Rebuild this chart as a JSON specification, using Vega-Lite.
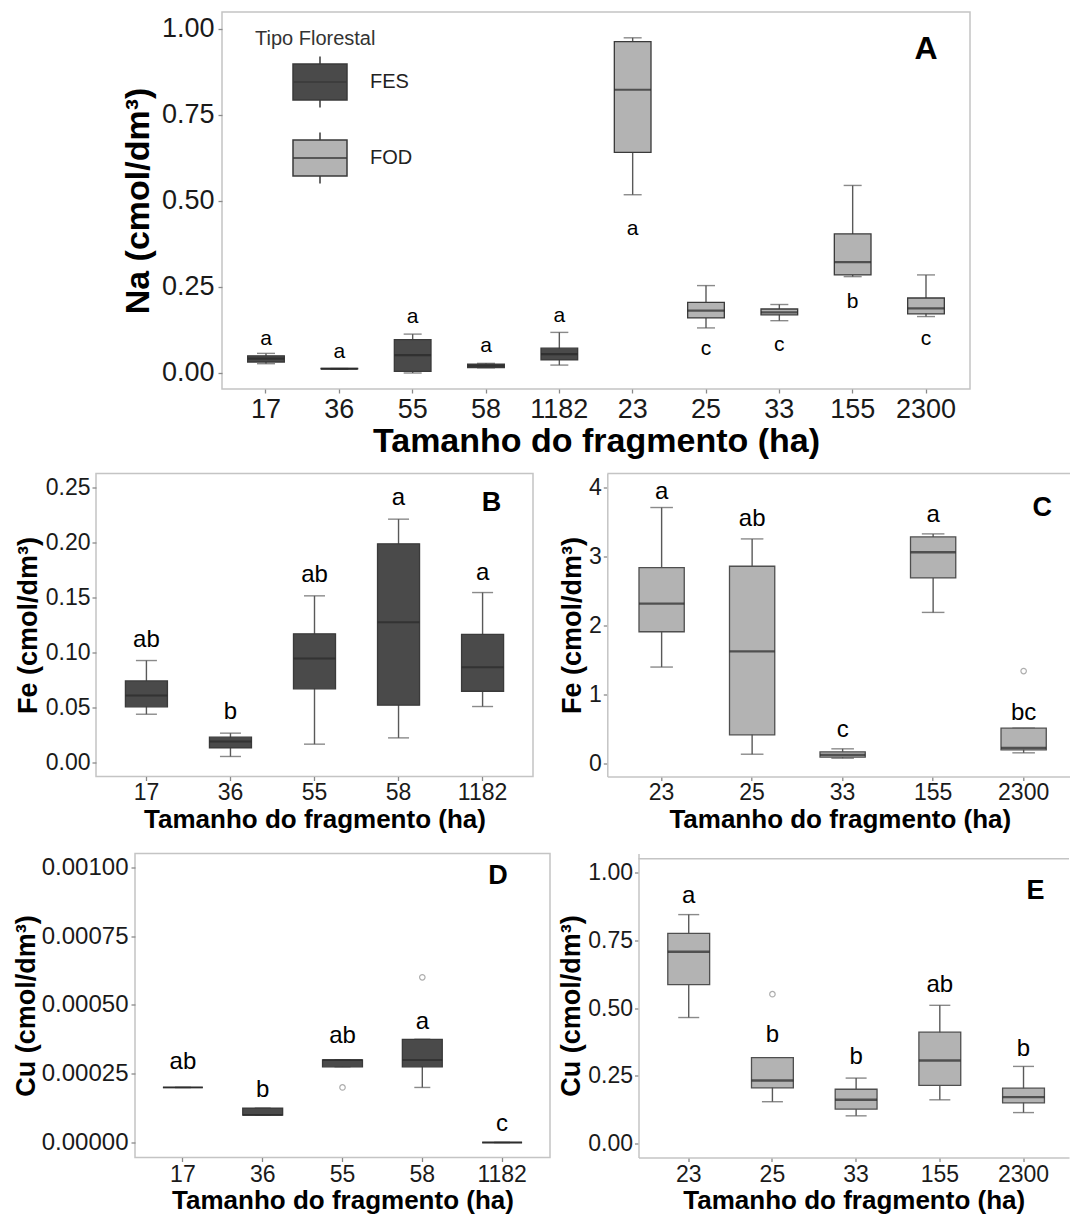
{
"$schema": "https://vega.github.io/schema/vega-lite/v6.json",
"padding": {"left": 10, "top": 11, "right": 0, "bottom": 0},
"background": "#ffffff",
"config": {
  "font": "Liberation Sans",
  "view": {"stroke": "#c4c4c4", "strokeWidth": 1.5},
  "axis": {"grid": false, "domain": false, "tickColor": "#8a8a8a", "tickWidth": 1.3, "tickSize": 4, "labelColor": "#1a1a1a", "titleColor": "#000000", "titleFontWeight": "bold", "labelFont": "Liberation Sans", "titleFont": "Liberation Sans"},
  "axisX": {"labelAngle": 0, "bandPosition": 0.5}
},
"datasets": {
  "na": [
    {"frag": "17", "tipo": "FES", "lo": 0.027, "q1": 0.032, "med": 0.042, "q3": 0.050, "hi": 0.057, "letra": "a", "ly": 0.099},
    {"frag": "36", "tipo": "FES", "lo": 0.011, "q1": 0.012, "med": 0.012, "q3": 0.013, "hi": 0.013, "letra": "a", "ly": 0.062},
    {"frag": "55", "tipo": "FES", "lo": 0.0, "q1": 0.005, "med": 0.052, "q3": 0.097, "hi": 0.113, "letra": "a", "ly": 0.162},
    {"frag": "58", "tipo": "FES", "lo": 0.015, "q1": 0.016, "med": 0.021, "q3": 0.026, "hi": 0.028, "letra": "a", "ly": 0.079},
    {"frag": "1182", "tipo": "FES", "lo": 0.023, "q1": 0.038, "med": 0.055, "q3": 0.072, "hi": 0.118, "letra": "a", "ly": 0.165},
    {"frag": "23", "tipo": "FOD", "lo": 0.518, "q1": 0.641, "med": 0.823, "q3": 0.963, "hi": 0.974, "letra": "a", "ly": 0.419},
    {"frag": "25", "tipo": "FOD", "lo": 0.131, "q1": 0.160, "med": 0.181, "q3": 0.205, "hi": 0.254, "letra": "c", "ly": 0.07},
    {"frag": "33", "tipo": "FOD", "lo": 0.152, "q1": 0.169, "med": 0.176, "q3": 0.186, "hi": 0.199, "letra": "c", "ly": 0.081},
    {"frag": "155", "tipo": "FOD", "lo": 0.280, "q1": 0.285, "med": 0.322, "q3": 0.404, "hi": 0.545, "letra": "b", "ly": 0.207},
    {"frag": "2300", "tipo": "FOD", "lo": 0.164, "q1": 0.172, "med": 0.188, "q3": 0.218, "hi": 0.285, "letra": "c", "ly": 0.099}
  ],
  "feFES": [
    {"frag": "17", "lo": 0.0439, "q1": 0.0506, "med": 0.0609, "q3": 0.0742, "hi": 0.0927, "letra": "ab", "ly": 0.1115},
    {"frag": "36", "lo": 0.0055, "q1": 0.0133, "med": 0.019, "q3": 0.023, "hi": 0.0267, "letra": "b", "ly": 0.0458},
    {"frag": "55", "lo": 0.0167, "q1": 0.067, "med": 0.0945, "q3": 0.117, "hi": 0.1515, "letra": "ab", "ly": 0.1706},
    {"frag": "58", "lo": 0.0224, "q1": 0.0521, "med": 0.1276, "q3": 0.1988, "hi": 0.2212, "letra": "a", "ly": 0.2403},
    {"frag": "1182", "lo": 0.0509, "q1": 0.0648, "med": 0.0867, "q3": 0.1164, "hi": 0.1545, "letra": "a", "ly": 0.1727}
  ],
  "feFOD": [
    {"frag": "23", "lo": 1.398, "q1": 1.91, "med": 2.317, "q3": 2.84, "hi": 3.71, "letra": "a", "ly": 3.94},
    {"frag": "25", "lo": 0.135, "q1": 0.416, "med": 1.625, "q3": 2.859, "hi": 3.255, "letra": "ab", "ly": 3.55},
    {"frag": "33", "lo": 0.077, "q1": 0.092, "med": 0.126, "q3": 0.169, "hi": 0.213, "letra": "c", "ly": 0.489},
    {"frag": "155", "lo": 2.19, "q1": 2.689, "med": 3.062, "q3": 3.284, "hi": 3.328, "letra": "a", "ly": 3.6},
    {"frag": "2300", "lo": 0.155, "q1": 0.198, "med": 0.227, "q3": 0.513, "hi": 0.513, "letra": "bc", "ly": 0.73}
  ],
  "cuFES": [
    {"frag": "17", "lo": 0.0002, "q1": 0.0002, "med": 0.0002, "q3": 0.0002, "hi": 0.0002, "letra": "ab", "ly": 0.000293},
    {"frag": "36", "lo": 0.0001, "q1": 0.0001, "med": 0.0001, "q3": 0.000125, "hi": 0.000125, "letra": "b", "ly": 0.000189},
    {"frag": "55", "lo": 0.000275, "q1": 0.000275, "med": 0.0003, "q3": 0.0003, "hi": 0.0003, "letra": "ab", "ly": 0.000387},
    {"frag": "58", "lo": 0.0002, "q1": 0.000275, "med": 0.0003, "q3": 0.000375, "hi": 0.000375, "letra": "a", "ly": 0.000438},
    {"frag": "1182", "lo": 0, "q1": 0, "med": 0, "q3": 0, "hi": 0, "letra": "c", "ly": 0.0000673}
  ],
  "cuFOD": [
    {"frag": "23", "lo": 0.465, "q1": 0.586, "med": 0.707, "q3": 0.775, "hi": 0.844, "letra": "a", "ly": 0.914},
    {"frag": "25", "lo": 0.155, "q1": 0.206, "med": 0.233, "q3": 0.317, "hi": 0.317, "letra": "b", "ly": 0.402},
    {"frag": "33", "lo": 0.103, "q1": 0.128, "med": 0.162, "q3": 0.201, "hi": 0.242, "letra": "b", "ly": 0.319},
    {"frag": "155", "lo": 0.162, "q1": 0.215, "med": 0.307, "q3": 0.411, "hi": 0.51, "letra": "ab", "ly": 0.586},
    {"frag": "2300", "lo": 0.115, "q1": 0.151, "med": 0.172, "q3": 0.205, "hi": 0.285, "letra": "b", "ly": 0.35}
  ],
  "out": [
    {"p": "C", "frag": "2300", "v": 1.34},
    {"p": "D", "frag": "55", "v": 0.0002},
    {"p": "D", "frag": "58", "v": 0.0006},
    {"p": "E", "frag": "25", "v": 0.551}
  ],
  "rot": [
    {"p": "A", "frag": "2300", "v": 0.942},
    {"p": "B", "frag": "1182", "v": 0.2355},
    {"p": "C", "frag": "2300", "v": 3.696},
    {"p": "D", "frag": "1182", "v": 0.000967},
    {"p": "E", "frag": "2300", "v": 0.9326}
  ],
  "topo": [
    {"p": "C", "v": 4.203},
    {"p": "E", "v": 1.0493}
  ]
},
"spacing": 12.5,
"resolve": {"scale": {"fill": "independent"}, "legend": {"fill": "independent"}},
"vconcat": [
  {
    "spacing": 0,
    "resolve": {"scale": {"fill": "independent"}, "legend": {"fill": "independent"}},
    "hconcat": [
      {"width": 111, "height": 1, "view": {"stroke": null}, "data": {"values": []}, "mark": "point", "encoding": {}},
      {
        "width": 748, "height": 377,
        "layer": [
          {
            "data": {"name": "na"},
            "encoding": {"x": {"field": "frag", "type": "nominal", "title": "Tamanho do fragmento (ha)", "scale": {"domain": ["17","36","55","58","1182","23","25","33","155","2300"], "paddingInner": 0.5, "paddingOuter": 0.35}, "axis": {"labelFontSize": 27, "titleFontSize": 34, "labelPadding": 3, "titlePadding": 2.5}}},
            "layer": [
              {"mark": {"type": "rule", "color": "#595959", "strokeWidth": 1.4},
               "encoding": {"y": {"field": "lo", "type": "quantitative", "title": "Na (cmol/dm³)", "scale": {"domain": [-0.0465, 1.049], "nice": false, "zero": false}, "axis": {"values": [0, 0.25, 0.5, 0.75, 1], "format": ".2f", "labelFontSize": 27, "titleFontSize": 34, "labelPadding": 4, "titlePadding": 5.5}}, "y2": {"field": "hi"}}},
              {"mark": {"type": "tick", "color": "#595959", "thickness": 1.4, "size": 18},
               "encoding": {"y": {"field": "lo", "type": "quantitative", "title": "Na (cmol/dm³)", "scale": {"domain": [-0.0465, 1.049], "nice": false, "zero": false}, "axis": {"values": [0, 0.25, 0.5, 0.75, 1], "format": ".2f", "labelFontSize": 27, "titleFontSize": 34, "labelPadding": 4, "titlePadding": 5.5}}}},
              {"mark": {"type": "tick", "color": "#595959", "thickness": 1.4, "size": 18},
               "encoding": {"y": {"field": "hi", "type": "quantitative", "title": "Na (cmol/dm³)", "scale": {"domain": [-0.0465, 1.049], "nice": false, "zero": false}, "axis": {"values": [0, 0.25, 0.5, 0.75, 1], "format": ".2f", "labelFontSize": 27, "titleFontSize": 34, "labelPadding": 4, "titlePadding": 5.5}}}},
              {"mark": {"type": "bar", "stroke": "#3a3a3a", "strokeWidth": 1.3},
               "encoding": {"y": {"field": "q1", "type": "quantitative", "title": "Na (cmol/dm³)", "scale": {"domain": [-0.0465, 1.049], "nice": false, "zero": false}, "axis": {"values": [0, 0.25, 0.5, 0.75, 1], "format": ".2f", "labelFontSize": 27, "titleFontSize": 34, "labelPadding": 4, "titlePadding": 5.5}}, "y2": {"field": "q3"},
                 "fill": {"field": "tipo", "type": "nominal", "scale": {"domain": ["FES", "FOD"], "range": ["#4a4a4a", "#b3b3b3"]},
                   "legend": {"title": "Tipo Florestal", "orient": "none", "legendX": 33, "legendY": 17, "padding": 0, "titleFontSize": 20, "titleFontWeight": "normal", "titleColor": "#333333", "titlePadding": 5, "labelFontSize": 20, "labelColor": "#222222", "symbolType": "M-1,-0.667H1V0.667H-1Z M0,-0.667V-0.944 M0,0.667V0.944 M-1,0H1", "symbolSize": 2916, "symbolStrokeColor": "#3a3a3a", "symbolStrokeWidth": 1.5, "symbolOffset": 37, "labelOffset": 22, "rowPadding": 18}}}},
              {"mark": {"type": "tick", "color": "#262626", "thickness": 2.2, "size": 36.7},
               "encoding": {"y": {"field": "med", "type": "quantitative", "title": "Na (cmol/dm³)", "scale": {"domain": [-0.0465, 1.049], "nice": false, "zero": false}, "axis": {"values": [0, 0.25, 0.5, 0.75, 1], "format": ".2f", "labelFontSize": 27, "titleFontSize": 34, "labelPadding": 4, "titlePadding": 5.5}}}},
              {"mark": {"type": "text", "fontSize": 21, "baseline": "middle", "color": "#000000"},
               "encoding": {"y": {"field": "ly", "type": "quantitative", "title": "Na (cmol/dm³)", "scale": {"domain": [-0.0465, 1.049], "nice": false, "zero": false}, "axis": {"values": [0, 0.25, 0.5, 0.75, 1], "format": ".2f", "labelFontSize": 27, "titleFontSize": 34, "labelPadding": 4, "titlePadding": 5.5}}, "text": {"field": "letra"}}}
            ]
          },
          {
            "data": {"name": "rot"},
            "transform": [{"filter": "datum.p == 'A'"}],
            "mark": {"type": "text", "fontSize": 32, "fontWeight": "bold", "baseline": "middle", "color": "#000000"},
            "encoding": {
              "x": {"field": "frag", "type": "nominal", "title": "Tamanho do fragmento (ha)", "scale": {"domain": ["17","36","55","58","1182","23","25","33","155","2300"], "paddingInner": 0.5, "paddingOuter": 0.35}, "axis": {"labelFontSize": 27, "titleFontSize": 34, "labelPadding": 3, "titlePadding": 2.5}},
              "y": {"field": "v", "type": "quantitative", "title": "Na (cmol/dm³)", "scale": {"domain": [-0.0465, 1.049], "nice": false, "zero": false}, "axis": {"values": [0, 0.25, 0.5, 0.75, 1], "format": ".2f", "labelFontSize": 27, "titleFontSize": 34, "labelPadding": 4, "titlePadding": 5.5}},
              "text": {"field": "p"}
            }
          }
        ]
      }
    ]
  },
  {
    "spacing": 19,
    "vconcat": [
      {
        "spacing": 0,
        "hconcat": [
          {"width": 3, "height": 1, "view": {"stroke": null}, "data": {"values": []}, "mark": "point", "encoding": {}},
          {
            "spacing": 24.3,
            "hconcat": [
              {
                "width": 437, "height": 303,
                "layer": [
                  {
                    "data": {"name": "feFES"},
                    "encoding": {"x": {"field": "frag", "type": "nominal", "title": "Tamanho do fragmento (ha)", "scale": {"domain": ["17","36","55","58","1182"], "paddingInner": 0.5, "paddingOuter": 0.35}, "axis": {"labelFontSize": 23, "titleFontSize": 26, "labelPadding": 1, "titlePadding": 2}}},
                    "layer": [
                      {"mark": {"type": "rule", "color": "#595959", "strokeWidth": 1.4},
                       "encoding": {"y": {"field": "lo", "type": "quantitative", "title": "Fe (cmol/dm³)", "scale": {"domain": [-0.0127, 0.2627], "nice": false, "zero": false}, "axis": {"values": [0, 0.05, 0.1, 0.15, 0.2, 0.25], "format": ".2f", "labelFontSize": 23, "titleFontSize": 27, "labelPadding": 2, "titlePadding": 3}}, "y2": {"field": "hi"}}},
                      {"mark": {"type": "tick", "color": "#595959", "thickness": 1.4, "size": 21},
                       "encoding": {"y": {"field": "lo", "type": "quantitative", "title": "Fe (cmol/dm³)", "scale": {"domain": [-0.0127, 0.2627], "nice": false, "zero": false}, "axis": {"values": [0, 0.05, 0.1, 0.15, 0.2, 0.25], "format": ".2f", "labelFontSize": 23, "titleFontSize": 27, "labelPadding": 2, "titlePadding": 3}}}},
                      {"mark": {"type": "tick", "color": "#595959", "thickness": 1.4, "size": 21},
                       "encoding": {"y": {"field": "hi", "type": "quantitative", "title": "Fe (cmol/dm³)", "scale": {"domain": [-0.0127, 0.2627], "nice": false, "zero": false}, "axis": {"values": [0, 0.05, 0.1, 0.15, 0.2, 0.25], "format": ".2f", "labelFontSize": 23, "titleFontSize": 27, "labelPadding": 2, "titlePadding": 3}}}},
                      {"mark": {"type": "bar", "fill": "#4a4a4a", "stroke": "#3a3a3a", "strokeWidth": 1.3},
                       "encoding": {"y": {"field": "q1", "type": "quantitative", "title": "Fe (cmol/dm³)", "scale": {"domain": [-0.0127, 0.2627], "nice": false, "zero": false}, "axis": {"values": [0, 0.05, 0.1, 0.15, 0.2, 0.25], "format": ".2f", "labelFontSize": 23, "titleFontSize": 27, "labelPadding": 2, "titlePadding": 3}}, "y2": {"field": "q3"}}},
                      {"mark": {"type": "tick", "color": "#2a2a2a", "thickness": 2, "size": 42},
                       "encoding": {"y": {"field": "med", "type": "quantitative", "title": "Fe (cmol/dm³)", "scale": {"domain": [-0.0127, 0.2627], "nice": false, "zero": false}, "axis": {"values": [0, 0.05, 0.1, 0.15, 0.2, 0.25], "format": ".2f", "labelFontSize": 23, "titleFontSize": 27, "labelPadding": 2, "titlePadding": 3}}}},
                      {"mark": {"type": "text", "fontSize": 24, "baseline": "middle", "color": "#000000"},
                       "encoding": {"y": {"field": "ly", "type": "quantitative", "title": "Fe (cmol/dm³)", "scale": {"domain": [-0.0127, 0.2627], "nice": false, "zero": false}, "axis": {"values": [0, 0.05, 0.1, 0.15, 0.2, 0.25], "format": ".2f", "labelFontSize": 23, "titleFontSize": 27, "labelPadding": 2, "titlePadding": 3}}, "text": {"field": "letra"}}}
                    ]
                  },
                  {
                    "data": {"name": "rot"},
                    "transform": [{"filter": "datum.p == 'B'"}],
                    "mark": {"type": "text", "fontSize": 27, "fontWeight": "bold", "baseline": "middle", "color": "#000000", "dx": 9},
                    "encoding": {
                      "x": {"field": "frag", "type": "nominal", "title": "Tamanho do fragmento (ha)", "scale": {"domain": ["17","36","55","58","1182"], "paddingInner": 0.5, "paddingOuter": 0.35}, "axis": {"labelFontSize": 23, "titleFontSize": 26, "labelPadding": 1, "titlePadding": 2}},
                      "y": {"field": "v", "type": "quantitative", "title": "Fe (cmol/dm³)", "scale": {"domain": [-0.0127, 0.2627], "nice": false, "zero": false}, "axis": {"values": [0, 0.05, 0.1, 0.15, 0.2, 0.25], "format": ".2f", "labelFontSize": 23, "titleFontSize": 27, "labelPadding": 2, "titlePadding": 3}},
                      "text": {"field": "p"}
                    }
                  }
                ]
              },
              {
                "width": 465, "height": 303,
                "view": {"stroke": null},
                "layer": [
                  {
                    "encoding": {"x": {"field": "frag", "type": "nominal", "title": "Tamanho do fragmento (ha)", "scale": {"domain": ["23","25","33","155","2300"], "paddingInner": 0.5, "paddingOuter": 0.319, "align": 0.549}, "axis": {"labelFontSize": 23, "titleFontSize": 26, "labelPadding": 1, "titlePadding": 2, "domain": true, "domainColor": "#c4c4c4", "domainWidth": 1.5}}},
                    "layer": [
                      {
                        "data": {"name": "feFOD"},
                        "layer": [
                          {"mark": {"type": "rule", "color": "#595959", "strokeWidth": 1.4},
                           "encoding": {"y": {"field": "lo", "type": "quantitative", "title": "Fe (cmol/dm³)", "scale": {"domain": [-0.188, 4.203], "nice": false, "zero": false}, "axis": {"values": [0, 1, 2, 3, 4], "format": "d", "labelFontSize": 23, "titleFontSize": 27, "labelPadding": 2, "titlePadding": 2, "domain": true, "domainColor": "#c4c4c4", "domainWidth": 1.5}}, "y2": {"field": "hi"}}},
                          {"mark": {"type": "tick", "color": "#595959", "thickness": 1.4, "size": 22.6},
                           "encoding": {"y": {"field": "lo", "type": "quantitative", "title": "Fe (cmol/dm³)", "scale": {"domain": [-0.188, 4.203], "nice": false, "zero": false}, "axis": {"values": [0, 1, 2, 3, 4], "format": "d", "labelFontSize": 23, "titleFontSize": 27, "labelPadding": 2, "titlePadding": 2, "domain": true, "domainColor": "#c4c4c4", "domainWidth": 1.5}}}},
                          {"mark": {"type": "tick", "color": "#595959", "thickness": 1.4, "size": 22.6},
                           "encoding": {"y": {"field": "hi", "type": "quantitative", "title": "Fe (cmol/dm³)", "scale": {"domain": [-0.188, 4.203], "nice": false, "zero": false}, "axis": {"values": [0, 1, 2, 3, 4], "format": "d", "labelFontSize": 23, "titleFontSize": 27, "labelPadding": 2, "titlePadding": 2, "domain": true, "domainColor": "#c4c4c4", "domainWidth": 1.5}}}},
                          {"mark": {"type": "bar", "fill": "#b3b3b3", "stroke": "#4f4f4f", "strokeWidth": 1.3},
                           "encoding": {"y": {"field": "q1", "type": "quantitative", "title": "Fe (cmol/dm³)", "scale": {"domain": [-0.188, 4.203], "nice": false, "zero": false}, "axis": {"values": [0, 1, 2, 3, 4], "format": "d", "labelFontSize": 23, "titleFontSize": 27, "labelPadding": 2, "titlePadding": 2, "domain": true, "domainColor": "#c4c4c4", "domainWidth": 1.5}}, "y2": {"field": "q3"}}},
                          {"mark": {"type": "tick", "color": "#262626", "thickness": 2.4, "size": 45.2},
                           "encoding": {"y": {"field": "med", "type": "quantitative", "title": "Fe (cmol/dm³)", "scale": {"domain": [-0.188, 4.203], "nice": false, "zero": false}, "axis": {"values": [0, 1, 2, 3, 4], "format": "d", "labelFontSize": 23, "titleFontSize": 27, "labelPadding": 2, "titlePadding": 2, "domain": true, "domainColor": "#c4c4c4", "domainWidth": 1.5}}}},
                          {"mark": {"type": "text", "fontSize": 24, "baseline": "middle", "color": "#000000"},
                           "encoding": {"y": {"field": "ly", "type": "quantitative", "title": "Fe (cmol/dm³)", "scale": {"domain": [-0.188, 4.203], "nice": false, "zero": false}, "axis": {"values": [0, 1, 2, 3, 4], "format": "d", "labelFontSize": 23, "titleFontSize": 27, "labelPadding": 2, "titlePadding": 2, "domain": true, "domainColor": "#c4c4c4", "domainWidth": 1.5}}, "text": {"field": "letra"}}}
                        ]
                      },
                      {
                        "data": {"name": "out"},
                        "transform": [{"filter": "datum.p == 'C'"}],
                        "mark": {"type": "point", "shape": "circle", "filled": false, "color": "#8c8c8c", "size": 30, "strokeWidth": 1.2},
                        "encoding": {"y": {"field": "v", "type": "quantitative", "title": "Fe (cmol/dm³)", "scale": {"domain": [-0.188, 4.203], "nice": false, "zero": false}, "axis": {"values": [0, 1, 2, 3, 4], "format": "d", "labelFontSize": 23, "titleFontSize": 27, "labelPadding": 2, "titlePadding": 2, "domain": true, "domainColor": "#c4c4c4", "domainWidth": 1.5}}}
                      },
                      {
                        "data": {"name": "rot"},
                        "transform": [{"filter": "datum.p == 'C'"}],
                        "mark": {"type": "text", "fontSize": 27, "fontWeight": "bold", "baseline": "middle", "color": "#000000", "dx": 18.6},
                        "encoding": {"y": {"field": "v", "type": "quantitative", "title": "Fe (cmol/dm³)", "scale": {"domain": [-0.188, 4.203], "nice": false, "zero": false}, "axis": {"values": [0, 1, 2, 3, 4], "format": "d", "labelFontSize": 23, "titleFontSize": 27, "labelPadding": 2, "titlePadding": 2, "domain": true, "domainColor": "#c4c4c4", "domainWidth": 1.5}}, "text": {"field": "p"}}
                      }
                    ]
                  },
                  {
                    "data": {"name": "topo"},
                    "transform": [{"filter": "datum.p == 'C'"}],
                    "mark": {"type": "rule", "color": "#c4c4c4", "strokeWidth": 1.5},
                    "encoding": {"y": {"field": "v", "type": "quantitative", "title": "Fe (cmol/dm³)", "scale": {"domain": [-0.188, 4.203], "nice": false, "zero": false}, "axis": {"values": [0, 1, 2, 3, 4], "format": "d", "labelFontSize": 23, "titleFontSize": 27, "labelPadding": 2, "titlePadding": 2, "domain": true, "domainColor": "#c4c4c4", "domainWidth": 1.5}}}
                  }
                ]
              }
            ]
          }
        ]
      },
      {
        "spacing": 0,
        "hconcat": [
          {"width": 1, "height": 1, "view": {"stroke": null}, "data": {"values": []}, "mark": "point", "encoding": {}},
          {
            "spacing": 6.5,
            "hconcat": [
              {
                "width": 415, "height": 304,
                "layer": [
                  {
                    "encoding": {"x": {"field": "frag", "type": "nominal", "title": "Tamanho do fragmento (ha)", "scale": {"domain": ["17","36","55","58","1182"], "paddingInner": 0.5, "paddingOuter": 0.35}, "axis": {"labelFontSize": 23, "titleFontSize": 26, "labelPadding": 2, "titlePadding": 1}}},
                    "layer": [
                      {
                        "data": {"name": "cuFES"},
                        "layer": [
                          {"mark": {"type": "rule", "color": "#595959", "strokeWidth": 1.4},
                           "encoding": {"y": {"field": "lo", "type": "quantitative", "title": "Cu (cmol/dm³)", "scale": {"domain": [-0.0000545, 0.00105], "nice": false, "zero": false}, "axis": {"values": [0, 0.00025, 0.0005, 0.00075, 0.001], "format": ".5f", "labelFontSize": 24, "titleFontSize": 27, "labelPadding": 3, "titlePadding": 1}}, "y2": {"field": "hi"}}},
                          {"mark": {"type": "tick", "color": "#595959", "thickness": 1.4, "size": 16},
                           "encoding": {"y": {"field": "lo", "type": "quantitative", "title": "Cu (cmol/dm³)", "scale": {"domain": [-0.0000545, 0.00105], "nice": false, "zero": false}, "axis": {"values": [0, 0.00025, 0.0005, 0.00075, 0.001], "format": ".5f", "labelFontSize": 24, "titleFontSize": 27, "labelPadding": 3, "titlePadding": 1}}}},
                          {"mark": {"type": "tick", "color": "#595959", "thickness": 1.4, "size": 16},
                           "encoding": {"y": {"field": "hi", "type": "quantitative", "title": "Cu (cmol/dm³)", "scale": {"domain": [-0.0000545, 0.00105], "nice": false, "zero": false}, "axis": {"values": [0, 0.00025, 0.0005, 0.00075, 0.001], "format": ".5f", "labelFontSize": 24, "titleFontSize": 27, "labelPadding": 3, "titlePadding": 1}}}},
                          {"mark": {"type": "bar", "fill": "#4a4a4a", "stroke": "#3a3a3a", "strokeWidth": 1.3},
                           "encoding": {"y": {"field": "q1", "type": "quantitative", "title": "Cu (cmol/dm³)", "scale": {"domain": [-0.0000545, 0.00105], "nice": false, "zero": false}, "axis": {"values": [0, 0.00025, 0.0005, 0.00075, 0.001], "format": ".5f", "labelFontSize": 24, "titleFontSize": 27, "labelPadding": 3, "titlePadding": 1}}, "y2": {"field": "q3"}}},
                          {"mark": {"type": "tick", "color": "#2a2a2a", "thickness": 2, "size": 39.9},
                           "encoding": {"y": {"field": "med", "type": "quantitative", "title": "Cu (cmol/dm³)", "scale": {"domain": [-0.0000545, 0.00105], "nice": false, "zero": false}, "axis": {"values": [0, 0.00025, 0.0005, 0.00075, 0.001], "format": ".5f", "labelFontSize": 24, "titleFontSize": 27, "labelPadding": 3, "titlePadding": 1}}}},
                          {"mark": {"type": "text", "fontSize": 24, "baseline": "middle", "color": "#000000"},
                           "encoding": {"y": {"field": "ly", "type": "quantitative", "title": "Cu (cmol/dm³)", "scale": {"domain": [-0.0000545, 0.00105], "nice": false, "zero": false}, "axis": {"values": [0, 0.00025, 0.0005, 0.00075, 0.001], "format": ".5f", "labelFontSize": 24, "titleFontSize": 27, "labelPadding": 3, "titlePadding": 1}}, "text": {"field": "letra"}}}
                        ]
                      },
                      {
                        "data": {"name": "out"},
                        "transform": [{"filter": "datum.p == 'D'"}],
                        "mark": {"type": "point", "shape": "circle", "filled": false, "color": "#8c8c8c", "size": 30, "strokeWidth": 1.2},
                        "encoding": {"y": {"field": "v", "type": "quantitative", "title": "Cu (cmol/dm³)", "scale": {"domain": [-0.0000545, 0.00105], "nice": false, "zero": false}, "axis": {"values": [0, 0.00025, 0.0005, 0.00075, 0.001], "format": ".5f", "labelFontSize": 24, "titleFontSize": 27, "labelPadding": 3, "titlePadding": 1}}}
                      },
                      {
                        "data": {"name": "rot"},
                        "transform": [{"filter": "datum.p == 'D'"}],
                        "mark": {"type": "text", "fontSize": 27, "fontWeight": "bold", "baseline": "middle", "color": "#000000", "dx": -4},
                        "encoding": {"y": {"field": "v", "type": "quantitative", "title": "Cu (cmol/dm³)", "scale": {"domain": [-0.0000545, 0.00105], "nice": false, "zero": false}, "axis": {"values": [0, 0.00025, 0.0005, 0.00075, 0.001], "format": ".5f", "labelFontSize": 24, "titleFontSize": 27, "labelPadding": 3, "titlePadding": 1}}, "text": {"field": "p"}}
                      }
                    ]
                  }
                ]
              },
              {
                "width": 430.5, "height": 304,
                "view": {"stroke": null},
                "layer": [
                  {
                    "encoding": {"x": {"field": "frag", "type": "nominal", "title": "Tamanho do fragmento (ha)", "scale": {"domain": ["23","25","33","155","2300"], "paddingInner": 0.5, "paddingOuter": 0.3217, "align": 0.544}, "axis": {"labelFontSize": 23, "titleFontSize": 26, "labelPadding": 2, "titlePadding": 1, "domain": true, "domainColor": "#c4c4c4", "domainWidth": 1.5}}},
                    "layer": [
                      {
                        "data": {"name": "cuFOD"},
                        "layer": [
                          {"mark": {"type": "rule", "color": "#595959", "strokeWidth": 1.4},
                           "encoding": {"y": {"field": "lo", "type": "quantitative", "title": "Cu (cmol/dm³)", "scale": {"domain": [-0.0504, 1.069], "nice": false, "zero": false}, "axis": {"values": [0, 0.25, 0.5, 0.75, 1], "format": ".2f", "labelFontSize": 23, "titleFontSize": 27, "labelPadding": 2, "titlePadding": 2, "domain": true, "domainColor": "#c4c4c4", "domainWidth": 1.5}}, "y2": {"field": "hi"}}},
                          {"mark": {"type": "tick", "color": "#595959", "thickness": 1.4, "size": 21},
                           "encoding": {"y": {"field": "lo", "type": "quantitative", "title": "Cu (cmol/dm³)", "scale": {"domain": [-0.0504, 1.069], "nice": false, "zero": false}, "axis": {"values": [0, 0.25, 0.5, 0.75, 1], "format": ".2f", "labelFontSize": 23, "titleFontSize": 27, "labelPadding": 2, "titlePadding": 2, "domain": true, "domainColor": "#c4c4c4", "domainWidth": 1.5}}}},
                          {"mark": {"type": "tick", "color": "#595959", "thickness": 1.4, "size": 21},
                           "encoding": {"y": {"field": "hi", "type": "quantitative", "title": "Cu (cmol/dm³)", "scale": {"domain": [-0.0504, 1.069], "nice": false, "zero": false}, "axis": {"values": [0, 0.25, 0.5, 0.75, 1], "format": ".2f", "labelFontSize": 23, "titleFontSize": 27, "labelPadding": 2, "titlePadding": 2, "domain": true, "domainColor": "#c4c4c4", "domainWidth": 1.5}}}},
                          {"mark": {"type": "bar", "fill": "#b3b3b3", "stroke": "#4f4f4f", "strokeWidth": 1.3},
                           "encoding": {"y": {"field": "q1", "type": "quantitative", "title": "Cu (cmol/dm³)", "scale": {"domain": [-0.0504, 1.069], "nice": false, "zero": false}, "axis": {"values": [0, 0.25, 0.5, 0.75, 1], "format": ".2f", "labelFontSize": 23, "titleFontSize": 27, "labelPadding": 2, "titlePadding": 2, "domain": true, "domainColor": "#c4c4c4", "domainWidth": 1.5}}, "y2": {"field": "q3"}}},
                          {"mark": {"type": "tick", "color": "#262626", "thickness": 2.4, "size": 41.85},
                           "encoding": {"y": {"field": "med", "type": "quantitative", "title": "Cu (cmol/dm³)", "scale": {"domain": [-0.0504, 1.069], "nice": false, "zero": false}, "axis": {"values": [0, 0.25, 0.5, 0.75, 1], "format": ".2f", "labelFontSize": 23, "titleFontSize": 27, "labelPadding": 2, "titlePadding": 2, "domain": true, "domainColor": "#c4c4c4", "domainWidth": 1.5}}}},
                          {"mark": {"type": "text", "fontSize": 24, "baseline": "middle", "color": "#000000"},
                           "encoding": {"y": {"field": "ly", "type": "quantitative", "title": "Cu (cmol/dm³)", "scale": {"domain": [-0.0504, 1.069], "nice": false, "zero": false}, "axis": {"values": [0, 0.25, 0.5, 0.75, 1], "format": ".2f", "labelFontSize": 23, "titleFontSize": 27, "labelPadding": 2, "titlePadding": 2, "domain": true, "domainColor": "#c4c4c4", "domainWidth": 1.5}}, "text": {"field": "letra"}}}
                        ]
                      },
                      {
                        "data": {"name": "out"},
                        "transform": [{"filter": "datum.p == 'E'"}],
                        "mark": {"type": "point", "shape": "circle", "filled": false, "color": "#8c8c8c", "size": 30, "strokeWidth": 1.2},
                        "encoding": {"y": {"field": "v", "type": "quantitative", "title": "Cu (cmol/dm³)", "scale": {"domain": [-0.0504, 1.069], "nice": false, "zero": false}, "axis": {"values": [0, 0.25, 0.5, 0.75, 1], "format": ".2f", "labelFontSize": 23, "titleFontSize": 27, "labelPadding": 2, "titlePadding": 2, "domain": true, "domainColor": "#c4c4c4", "domainWidth": 1.5}}}
                      },
                      {
                        "data": {"name": "rot"},
                        "transform": [{"filter": "datum.p == 'E'"}],
                        "mark": {"type": "text", "fontSize": 27, "fontWeight": "bold", "baseline": "middle", "color": "#000000", "dx": 12},
                        "encoding": {"y": {"field": "v", "type": "quantitative", "title": "Cu (cmol/dm³)", "scale": {"domain": [-0.0504, 1.069], "nice": false, "zero": false}, "axis": {"values": [0, 0.25, 0.5, 0.75, 1], "format": ".2f", "labelFontSize": 23, "titleFontSize": 27, "labelPadding": 2, "titlePadding": 2, "domain": true, "domainColor": "#c4c4c4", "domainWidth": 1.5}}, "text": {"field": "p"}}
                      }
                    ]
                  },
                  {
                    "data": {"name": "topo"},
                    "transform": [{"filter": "datum.p == 'E'"}],
                    "mark": {"type": "rule", "color": "#c4c4c4", "strokeWidth": 1.5},
                    "encoding": {"y": {"field": "v", "type": "quantitative", "title": "Cu (cmol/dm³)", "scale": {"domain": [-0.0504, 1.069], "nice": false, "zero": false}, "axis": {"values": [0, 0.25, 0.5, 0.75, 1], "format": ".2f", "labelFontSize": 23, "titleFontSize": 27, "labelPadding": 2, "titlePadding": 2, "domain": true, "domainColor": "#c4c4c4", "domainWidth": 1.5}}}
                  }
                ]
              }
            ]
          }
        ]
      }
    ]
  }
]
}
